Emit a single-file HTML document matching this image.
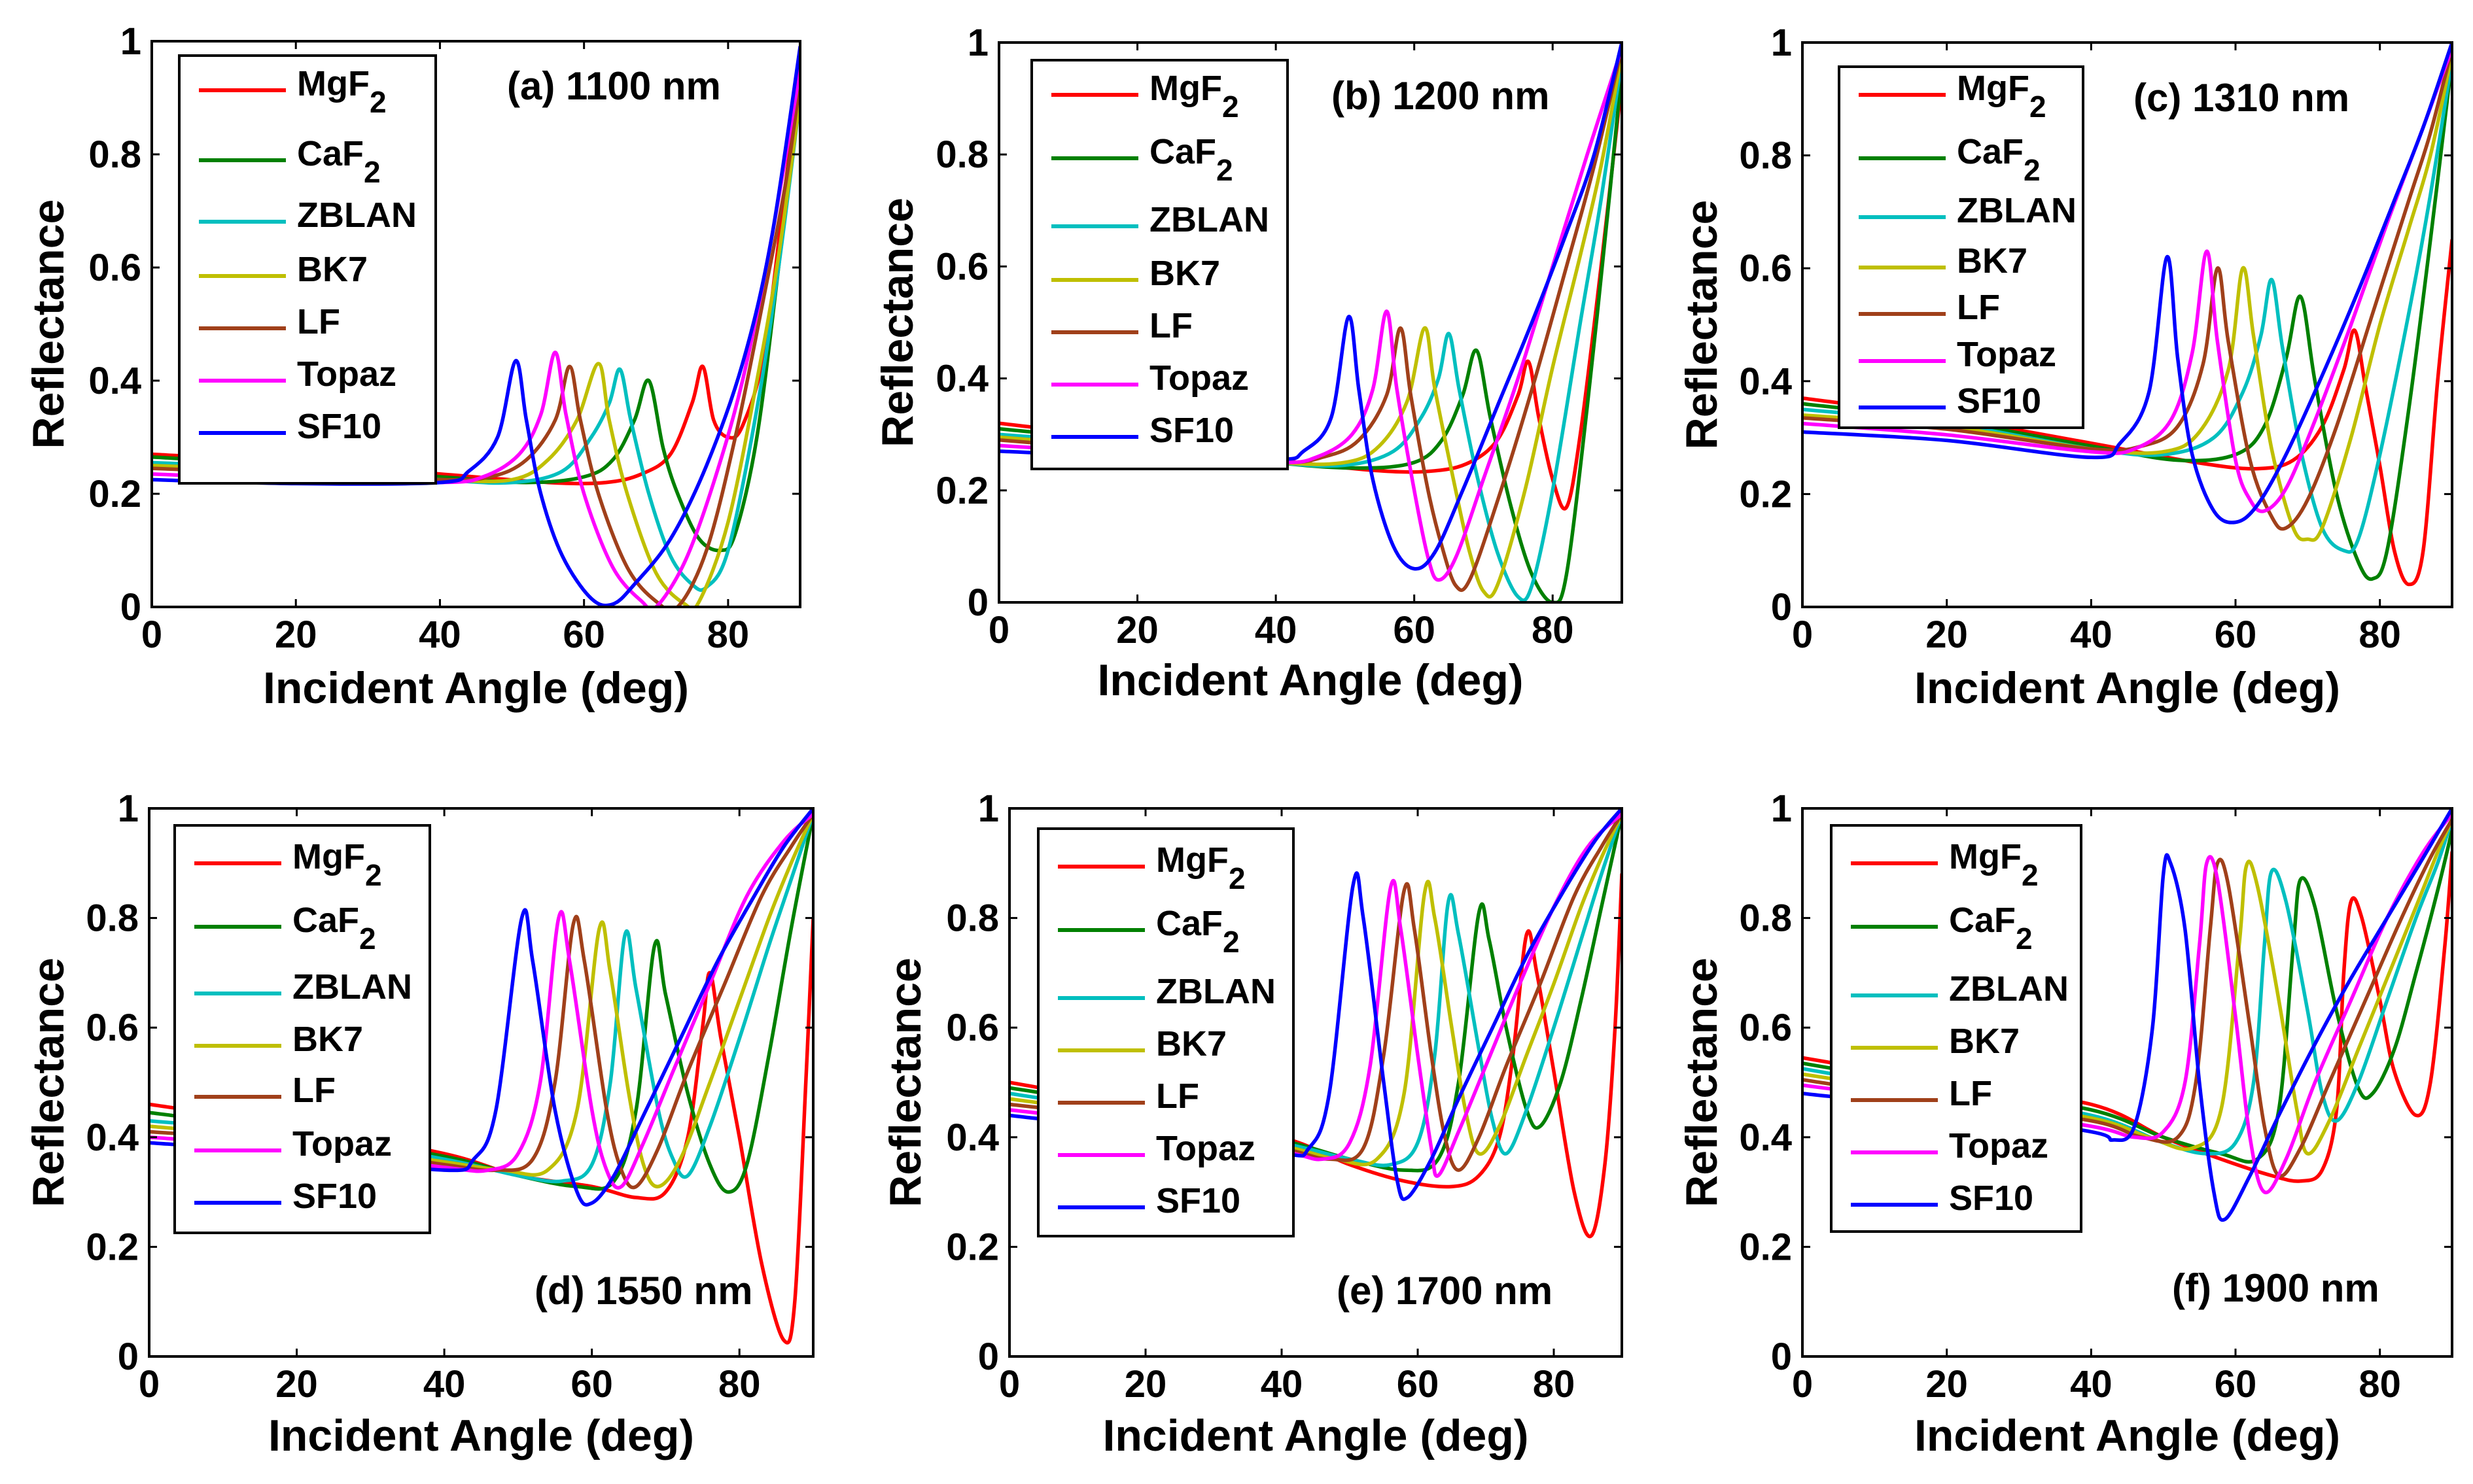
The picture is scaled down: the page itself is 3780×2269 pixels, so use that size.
<!DOCTYPE html>
<html><head><meta charset="utf-8"><style>
html,body{margin:0;padding:0;background:#fff;}
svg{display:block;}
text{font-family:"Liberation Sans",Arial,sans-serif;font-weight:bold;fill:#000;}
</style></head>
<body>
<svg id="fig" xmlns="http://www.w3.org/2000/svg" width="3780" height="2269" viewBox="0 0 3780 2269">
<rect width="3780" height="2269" fill="#fff"/>
</svg>
<script>
// ---- data: [angle(deg), reflectance] pairs ----
const materials = ["MgF2","CaF2","ZBLAN","BK7","LF","Topaz","SF10"];
const xTicks = [0,20,40,60,80];
const yTicks = [0,0.2,0.4,0.6,0.8,1];
const yTickLabels = ["0","0.2","0.4","0.6","0.8","1"];
const panelTitles = ["(a) 1100 nm","(b) 1200 nm","(c) 1310 nm","(d) 1550 nm","(e) 1700 nm","(f) 1900 nm"];

// (a) 1100 nm
const a_MgF2 = [[0,.27],[20,.255],[40,.235],[55,.22],[63,.22],[68,.235],[72,.27],[75,.36],[76.5,.425],[78,.33],[80,.30],[82,.32],[85,.45],[88,.75],[90,.95]];
const a_CaF2 = [[0,.265],[20,.25],[40,.23],[52,.22],[60,.23],[64,.26],[67,.33],[69,.40],[71,.28],[73,.2],[76,.12],[79,.1],[81,.13],[84,.3],[87,.6],[90,.93]];
const a_ZBLAN = [[0,.255],[20,.245],[40,.225],[50,.22],[57,.24],[61,.3],[63.5,.36],[65,.42],[66.5,.33],[69,.2],[72,.09],[75,.04],[77,.035],[80,.1],[84,.35],[87,.6],[90,.9]];
const a_BK7 = [[0,.25],[20,.24],[40,.225],[50,.225],[55,.26],[59,.33],[62,.43],[63.5,.33],[66,.2],[70,.06],[74,.005],[76,.01],[80,.15],[84,.4],[87,.62],[90,.9]];
const a_LF = [[0,.245],[20,.235],[40,.225],[47,.23],[52,.26],[56,.33],[58,.425],[59.5,.33],[62,.2],[66,.07],[70,.01],[73,0],[77,.1],[81,.3],[85,.55],[88,.75],[90,.93]];
const a_Topaz = [[0,.235],[20,.225],[40,.22],[46,.23],[51,.27],[54,.34],[56,.45],[57.5,.34],[60,.2],[64,.07],[68,.01],[70,0],[74,.08],[78,.22],[82,.4],[86,.65],[90,.95]];
const a_SF10 = [[0,.225],[20,.218],[40,.22],[44,.24],[48,.3],[50.5,.435],[52,.33],[54,.2],[57,.09],[61,.015],[64,.005],[67,.04],[72,.12],[77,.25],[82,.43],[86,.65],[90,.99]];

// (b) 1200 nm
const b_MgF2 = [[0,.32],[20,.29],[40,.255],[55,.235],[63,.235],[68,.25],[72,.29],[75,.37],[76.5,.43],[78,.33],[80,.22],[82,.17],[84,.3],[87,.6],[90,.93]];
const b_CaF2 = [[0,.31],[20,.285],[40,.25],[52,.24],[60,.25],[64,.29],[67,.37],[69,.45],[71,.33],[74,.17],[77,.05],[80,0],[82,.05],[85,.35],[88,.7],[90,.95]];
const b_ZBLAN = [[0,.30],[20,.28],[40,.25],[50,.245],[57,.27],[61,.33],[63.5,.4],[65,.48],[66.5,.38],[69,.23],[72,.09],[75,.01],[77,.03],[80,.2],[84,.5],[87,.72],[90,.97]];
const b_BK7 = [[0,.295],[20,.275],[40,.25],[50,.25],[55,.28],[59,.36],[61.5,.49],[63,.38],[66,.2],[68,.09],[70,.02],[72,.03],[76,.2],[80,.42],[84,.62],[87,.78],[90,.98]];
const b_LF = [[0,.29],[20,.27],[40,.25],[47,.26],[52,.29],[56,.37],[58,.49],[59.5,.37],[62,.2],[64,.1],[66,.03],[68,.04],[72,.18],[77,.38],[82,.6],[86,.78],[90,.99]];
const b_Topaz = [[0,.28],[20,.265],[40,.25],[46,.26],[51,.3],[54,.38],[56,.52],[57.5,.38],[60,.2],[62,.08],[63.5,.04],[66,.08],[70,.22],[75,.4],[80,.6],[85,.8],[90,.99]];
const b_SF10 = [[0,.27],[20,.26],[40,.255],[44,.27],[48,.33],[50.5,.51],[52,.38],[54,.22],[57,.1],[60,.06],[63,.09],[67,.2],[72,.35],[77,.5],[82,.66],[86,.8],[90,1]];

// (c) 1310 nm
const c_MgF2 = [[0,.37],[20,.335],[40,.29],[55,.255],[63,.245],[68,.26],[72,.32],[75,.42],[76.5,.49],[78,.39],[80,.25],[82,.1],[84,.04],[86,.1],[88,.4],[90,.65]];
const c_CaF2 = [[0,.36],[20,.33],[40,.285],[52,.26],[60,.27],[64,.32],[67,.44],[69,.55],[71,.4],[74,.2],[77,.08],[79,.05],[81,.1],[84,.35],[87,.65],[90,.97]];
const c_ZBLAN = [[0,.35],[20,.325],[40,.28],[50,.27],[57,.3],[61,.38],[63.5,.48],[65,.58],[66.5,.46],[69,.28],[72,.14],[75,.1],[77,.12],[80,.27],[84,.52],[87,.73],[90,.97]];
const c_BK7 = [[0,.34],[20,.32],[40,.28],[50,.275],[55,.31],[59,.42],[61,.6],[62.5,.48],[65,.28],[68,.14],[70,.12],[72,.14],[76,.3],[80,.5],[84,.67],[87,.8],[90,.98]];
const c_LF = [[0,.335],[20,.315],[40,.28],[47,.285],[52,.32],[55.5,.43],[57.5,.6],[59,.47],[62,.26],[65,.16],[67,.14],[70,.19],[74,.32],[79,.52],[84,.72],[87,.84],[90,.99]];
const c_Topaz = [[0,.325],[20,.305],[40,.275],[46,.28],[51,.33],[54,.45],[56,.63],[57.5,.47],[60,.26],[62,.19],[64,.17],[67,.21],[71,.33],[76,.5],[81,.68],[86,.85],[90,.99]];
const c_SF10 = [[0,.31],[20,.295],[40,.265],[44,.29],[48,.38],[50.5,.62],[52,.44],[54,.27],[57,.17],[60,.15],[63,.18],[67,.27],[72,.41],[77,.56],[82,.72],[86,.85],[90,1]];

// (d) 1550 nm
const d_MgF2 = [[0,.46],[20,.42],[40,.37],[50,.33],[60,.31],[66,.29],[70,.30],[73,.4],[75,.6],[76,.70],[77.5,.58],[80,.4],[83,.17],[86,.03],[87.5,.1],[89,.5],[90,.8]];
const d_CaF2 = [[0,.445],[20,.41],[40,.365],[50,.33],[58,.31],[63,.32],[66,.45],[68.5,.75],[70,.66],[73,.48],[76,.35],[78.5,.30],[81,.35],[84,.55],[87,.78],[90,.99]];
const d_ZBLAN = [[0,.43],[20,.405],[40,.36],[50,.33],[56,.32],[60,.35],[62.5,.5],[64.5,.77],[66,.67],[69,.45],[71,.36],[73,.33],[76,.42],[80,.58],[84,.75],[87,.87],[90,.99]];
const d_BK7 = [[0,.42],[20,.395],[40,.355],[48,.34],[54,.34],[58,.45],[61,.78],[62.5,.7],[65,.48],[67,.35],[69,.31],[72,.36],[76,.5],[80,.65],[84,.8],[87,.9],[90,.99]];
const d_LF = [[0,.41],[20,.39],[40,.35],[47,.34],[52,.36],[55,.5],[57.5,.79],[59,.72],[62,.45],[64,.34],[66,.31],[69,.38],[73,.52],[78,.68],[83,.84],[87,.93],[90,.99]];
const d_Topaz = [[0,.40],[20,.38],[40,.345],[46,.34],[50,.37],[53,.5],[55.5,.80],[57,.72],[60,.45],[62,.34],[64,.31],[67,.39],[71,.52],[76,.68],[81,.84],[86,.94],[90,.99]];
const d_SF10 = [[0,.39],[20,.37],[40,.34],[44,.36],[47,.45],[50.5,.80],[52,.72],[55,.45],[58,.3],[60,.28],[63,.33],[67,.44],[72,.58],[77,.72],[82,.84],[86,.93],[90,1]];

// (e) 1700 nm
const e_MgF2 = [[0,.50],[20,.455],[40,.40],[50,.35],[58,.32],[65,.31],[69,.33],[72,.4],[74,.55],[76,.77],[77.5,.7],[80,.52],[83,.3],[85.5,.22],[87.5,.35],[89,.6],[90,.88]];
const e_CaF2 = [[0,.49],[20,.45],[40,.395],[50,.36],[58,.34],[63,.36],[66,.5],[69,.81],[70.5,.76],[73,.6],[76,.45],[78,.42],[81,.5],[84,.65],[87,.82],[90,.99]];
const e_ZBLAN = [[0,.48],[20,.44],[40,.39],[50,.36],[56,.35],[60,.39],[62.5,.55],[64.5,.83],[66,.77],[69,.56],[71,.43],[73,.37],[76,.45],[80,.6],[84,.76],[87,.88],[90,.99]];
const e_BK7 = [[0,.47],[20,.435],[40,.385],[48,.36],[54,.36],[58,.48],[61,.845],[62.5,.8],[65,.6],[67,.45],[69,.37],[72,.42],[76,.55],[80,.68],[84,.82],[87,.91],[90,.99]];
const e_LF = [[0,.46],[20,.43],[40,.38],[47,.36],[52,.38],[55,.55],[58,.85],[59.5,.78],[62,.55],[64,.4],[66,.34],[69,.4],[73,.53],[78,.68],[83,.84],[87,.93],[90,.99]];
const e_Topaz = [[0,.45],[20,.42],[40,.375],[46,.36],[50,.39],[53,.53],[56,.855],[57.5,.78],[60,.55],[62,.38],[63,.33],[66,.41],[70,.53],[75,.68],[80,.82],[85,.93],[90,.99]];
const e_SF10 = [[0,.44],[20,.41],[40,.37],[44,.38],[47,.48],[50.5,.86],[52,.8],[55,.5],[57,.32],[58.5,.29],[62,.36],[66,.47],[71,.6],[76,.73],[81,.84],[86,.94],[90,1]];

// (f) 1900 nm
const f_MgF2 = [[0,.545],[20,.5],[40,.46],[50,.4],[58,.36],[65,.33],[69,.32],[72,.34],[74,.45],[75,.7],[76,.83],[77.5,.8],[80,.65],[82,.52],[85,.44],[87,.5],[89,.75],[90,.92]];
const f_CaF2 = [[0,.535],[20,.49],[40,.45],[50,.4],[58,.37],[63,.36],[66,.45],[68,.75],[69,.87],[71,.82],[74,.63],[77,.49],[79,.48],[82,.56],[85,.7],[88,.85],[90,.96]];
const f_ZBLAN = [[0,.525],[20,.48],[40,.44],[50,.39],[56,.37],[60,.39],[62.5,.5],[64,.75],[65,.885],[67,.83],[70,.63],[72,.48],[74,.43],[77,.5],[81,.65],[85,.8],[88,.9],[90,.98]];
const f_BK7 = [[0,.515],[20,.475],[40,.435],[48,.4],[54,.38],[58,.45],[60.5,.75],[61.5,.895],[63,.86],[66,.65],[68.5,.45],[70,.37],[73,.43],[77,.56],[81,.69],[85,.82],[88,.92],[90,.98]];
const f_LF = [[0,.505],[20,.465],[40,.43],[47,.4],[52,.4],[54.5,.5],[56.5,.78],[57.5,.9],[59,.86],[62,.6],[64,.42],[66,.33],[69,.38],[73,.5],[78,.65],[83,.8],[87,.91],[90,.98]];
const f_Topaz = [[0,.495],[20,.46],[40,.42],[46,.4],[50,.41],[53,.5],[55,.75],[56,.9],[57.5,.87],[60,.62],[62,.4],[64,.3],[67,.36],[71,.5],[76,.65],[81,.8],[86,.92],[90,.99]];
const f_SF10 = [[0,.48],[20,.45],[40,.41],[43,.395],[46,.42],[48.5,.6],[50,.88],[51,.9],[53,.78],[55,.5],[57,.3],[58.5,.25],[62,.33],[66,.44],[71,.57],[76,.69],[81,.8],[86,.91],[90,1]];

const panelData = [
  [a_MgF2,a_CaF2,a_ZBLAN,a_BK7,a_LF,a_Topaz,a_SF10],
  [b_MgF2,b_CaF2,b_ZBLAN,b_BK7,b_LF,b_Topaz,b_SF10],
  [c_MgF2,c_CaF2,c_ZBLAN,c_BK7,c_LF,c_Topaz,c_SF10],
  [d_MgF2,d_CaF2,d_ZBLAN,d_BK7,d_LF,d_Topaz,d_SF10],
  [e_MgF2,e_CaF2,e_ZBLAN,e_BK7,e_LF,e_Topaz,e_SF10],
  [f_MgF2,f_CaF2,f_ZBLAN,f_BK7,f_LF,f_Topaz,f_SF10]
];

// ---- layout (pixels) ----
const colors = ["#ff0000","#008000","#00bfbf","#bfbf00","#a0401a","#ff00ff","#0000ff"];
const boxes = [
  {l:232,r:1223,t:63,b:928, leg:{x:274,y:85,w:392,h:654,rows:[138,245,339,422,502,582,662]}, title:{x:775,y:152}, ylx:73, xly:1075},
  {l:1527,r:2479,t:65,b:921, leg:{x:1577,y:92,w:391,h:625,rows:[145,242,346,428,508,588,668]}, title:{x:2035,y:167}, ylx:1371, xly:1063},
  {l:2755,r:3748,t:65,b:928, leg:{x:2811,y:102,w:373,h:552,rows:[145,242,332,409,480,552,623]}, title:{x:3261,y:170}, ylx:2600, xly:1075},
  {l:228,r:1243,t:1236,b:2074, leg:{x:267,y:1262,w:390,h:623,rows:[1320,1417,1519,1599,1677,1759,1839]}, title:{x:817,y:1994}, ylx:73, xly:2218},
  {l:1543,r:2479,t:1236,b:2074, leg:{x:1587,y:1267,w:390,h:623,rows:[1325,1422,1526,1606,1686,1766,1846]}, title:{x:2043,y:1994}, ylx:1383, xly:2218},
  {l:2755,r:3748,t:1236,b:2074, leg:{x:2799,y:1262,w:382,h:621,rows:[1320,1417,1522,1602,1682,1762,1842]}, title:{x:3320,y:1990}, ylx:2600, xly:2218}
];

const NS="http://www.w3.org/2000/svg";
const svg=document.getElementById('fig');
function mk(tag,attrs,parent){const e=document.createElementNS(NS,tag);for(const k in attrs)e.setAttribute(k,attrs[k]);(parent||svg).appendChild(e);return e;}
function smoothPath(P){
  let d='M'+P[0][0].toFixed(1)+' '+P[0][1].toFixed(1);
  for(let i=0;i<P.length-1;i++){
    const p0=P[i>0?i-1:i],p1=P[i],p2=P[i+1],p3=P[i+2<P.length?i+2:i+1];
    const c1x=p1[0]+(p2[0]-p0[0])/6,c1y=p1[1]+(p2[1]-p0[1])/6;
    const c2x=p2[0]-(p3[0]-p1[0])/6,c2y=p2[1]-(p3[1]-p1[1])/6;
    d+=' C'+c1x.toFixed(1)+' '+c1y.toFixed(1)+' '+c2x.toFixed(1)+' '+c2y.toFixed(1)+' '+p2[0].toFixed(1)+' '+p2[1].toFixed(1);
  }
  return d;
}

boxes.forEach((B,pi)=>{
  const g=mk('g',{});
  
  
  const xs=v=>B.l+(v/90)*(B.r-B.l);
  const ys=v=>B.b-v*(B.b-B.t);
  const cp=mk('clipPath',{id:'clip'+pi},g);
  mk('rect',{x:B.l,y:B.t,width:B.r-B.l,height:B.b-B.t},cp);
  const sg=mk('g',{'clip-path':'url(#clip'+pi+')'},g);
  panelData[pi].forEach((pts,si)=>{
    const P=pts.map(p=>[xs(p[0]),ys(p[1])]);
    const path=mk('path',{d:smoothPath(P),fill:'none',stroke:colors[si],'stroke-width':5.5,'stroke-linejoin':'round','stroke-linecap':'round'},sg);
    
    
  });
  const ax=mk('rect',{x:B.l,y:B.t,width:B.r-B.l,height:B.b-B.t,fill:'none',stroke:'#000','stroke-width':4},g);
  
  
  xTicks.forEach(v=>{
    const x=xs(v);
    mk('line',{x1:x,y1:B.b,x2:x,y2:B.b-12,stroke:'#000','stroke-width':3},g);
    mk('line',{x1:x,y1:B.t,x2:x,y2:B.t+12,stroke:'#000','stroke-width':3},g);
    const t=mk('text',{x:x,y:B.b+62,'text-anchor':'middle','font-size':58},g);
    t.textContent=String(v);
    
    
  });
  yTicks.forEach((v,i)=>{
    const y=ys(v);
    mk('line',{x1:B.l,y1:y,x2:B.l+12,y2:y,stroke:'#000','stroke-width':3},g);
    mk('line',{x1:B.r,y1:y,x2:B.r-12,y2:y,stroke:'#000','stroke-width':3},g);
    const t=mk('text',{x:B.l-16,y:y+20,'text-anchor':'end','font-size':58},g);
    t.textContent=yTickLabels[i];
    
    
  });
  const xl=mk('text',{x:(B.l+B.r)/2,y:B.xly,'text-anchor':'middle','font-size':68},g);
  xl.textContent='Incident Angle (deg)';
  
  
  const yc=(B.t+B.b)/2;
  const yl=mk('text',{x:B.ylx,y:yc,'text-anchor':'middle','font-size':68,transform:'rotate(-90 '+B.ylx+' '+yc+') translate(0 24)'},g);
  yl.textContent='Reflectance';
  
  
  const tt=mk('text',{x:B.title.x,y:B.title.y,'text-anchor':'start','font-size':60},g);
  tt.textContent=panelTitles[pi];
  
  
  const L=B.leg;
  const lg=mk('g',{},g);
  
  
  mk('rect',{x:L.x,y:L.y,width:L.w,height:L.h,fill:'#fff',stroke:'#000','stroke-width':4},lg);
  materials.forEach((m,si)=>{
    const y=L.rows[si];
    const ent=mk('g',{},lg);
    
    
    mk('line',{x1:L.x+30,y1:y,x2:L.x+163,y2:y,stroke:colors[si],'stroke-width':6},ent);
    const t=mk('text',{x:L.x+180,y:y+8,'font-size':54},ent);
    if(m==='MgF2'||m==='CaF2'){
      t.textContent=m.slice(0,3);
      const s=mk('tspan',{dy:26,'font-size':46},t);
      s.textContent='2';
    } else t.textContent=m;
  });
});
</script>
</body></html>
